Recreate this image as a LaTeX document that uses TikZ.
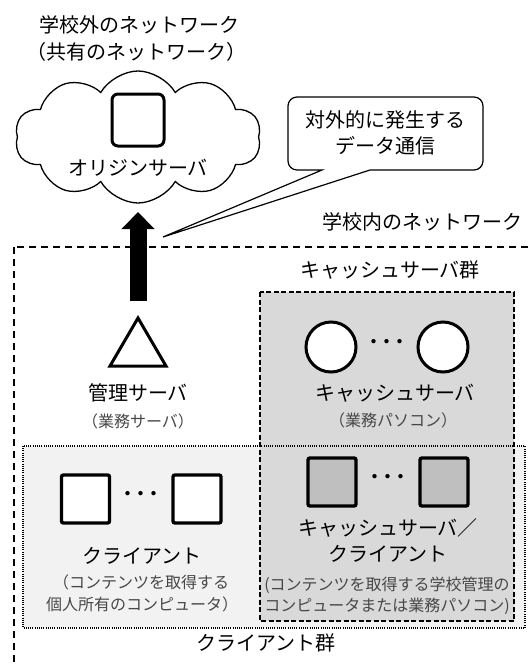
\documentclass[tikz,border=0pt]{standalone}
\usepackage{fontspec}
\setmainfont{Noto Sans CJK JP}
\usetikzlibrary{shapes.symbols,arrows.meta}
\definecolor{boxgray}{HTML}{D9D9D9}
\definecolor{clientgray}{HTML}{F2F2F2}
\definecolor{sqgray}{HTML}{BFBFBF}
\definecolor{txtgray}{HTML}{474747}
\begin{document}
\begin{tikzpicture}[x=1pt,y=-1pt,
  lbl/.style={font=\fontsize{20}{22}\selectfont, inner sep=0},
  sub/.style={font=\fontsize{16}{18}\selectfont, text=txtgray, inner sep=0},
  sq/.style={draw, line width=3.4pt, rounded corners=2pt, minimum size=48pt, inner sep=0},
  circ/.style={draw, circle, line width=3pt, fill=white, minimum size=50pt, inner sep=0},
  dots/.style={font=\fontsize{26}{26}\selectfont, inner sep=0}]
\useasboundingbox (0,0) rectangle (529,664);
\clip (0,0) rectangle (529,664);

% outside network
\node[lbl] (title1) at (139,25) {学校外のネットワーク};
\node[lbl] (title2) at (136,52) {（共有のネットワーク）};
\node[cloud, draw, line width=1.3pt, cloud puffs=10, cloud puff arc=120, aspect=1.9,
      minimum width=246pt, minimum height=132pt, inner sep=0] (cloud) at (138,137) {};
\node[draw, line width=3pt, rounded corners=6pt, minimum size=52pt, inner sep=0] (origin) at (138,120) {};
\node[lbl] (originlbl) at (138,168) {オリジンサーバ};

% callout
\coordinate (tip) at (163,237);
\draw[line width=1.2pt, fill=white] (tip) -- (370,170) [rounded corners=9pt] -- (483,170) -- (483,97) -- (288,97) -- (288,170) [sharp corners] -- (322,170) -- cycle;
\node[lbl] (call1) at (385,120) {対外的に発生する};
\node[lbl] (call2) at (385,146) {データ通信};

\node[lbl, anchor=east] (innet) at (523,222) {学校内のネットワーク};

% outer dashed network boundary
\draw[line width=1.3pt, dash pattern=on 7pt off 5pt] (14,247) rectangle (560,720);

% arrow
\coordinate (arrS) at (138,301);
\coordinate (arrE) at (138,212);
\draw[line width=17pt, -{Triangle[width=32pt,length=17pt]}] (arrS) -- (arrE);

% management server
\draw[line width=3pt, line join=miter] (138,318) -- (166,366) -- (110,366) -- cycle;
\node[lbl] (mgr) at (138,393) {管理サーバ};
\node[sub] (mgrsub) at (138,421) {（業務サーバ）};

% client group
\fill[clientgray] (23,446) rectangle (525,628);
\node[lbl] (cachegrp) at (390,270) {キャッシュサーバ群};
\draw[fill=boxgray, line width=1.3pt, dash pattern=on 5pt off 2.5pt] (260,292) rectangle (514,621);
\draw[line width=1.2pt, dash pattern=on 1pt off 1.2pt] (23,446) rectangle (525,628);

% cache servers
\node[circ] (c1) at (331,347) {};
\node[circ] (c2) at (443,347) {};
\node[dots] (cdots) at (387,345) {･･･};
\node[lbl] (cachelbl) at (395,393) {キャッシュサーバ};
\node[sub] (cachesub) at (393,420) {（業務パソコン）};

% clients
\node[sq, fill=white] (k1) at (85.5,499) {};
\node[sq, fill=white] (k2) at (197,499) {};
\node[dots] (kdots) at (141,497) {･･･};
\node[lbl] (klbl) at (142,556) {クライアント};
\node[sub] (ksub1) at (141,582) {（コンテンツを取得する};
\node[sub] (ksub2) at (142,604) {個人所有のコンピュータ）};

% cache server / clients
\node[sq, fill=sqgray] (g1) at (332,482) {};
\node[sq, fill=sqgray] (g2) at (444,482) {};
\node[dots] (gdots) at (388,480) {･･･};
\node[lbl] (glbl1) at (388,528) {キャッシュサーバ／};
\node[lbl] (glbl2) at (388,554) {クライアント};
\node[sub] (gsub1) at (387,585) {(コンテンツを取得する学校管理の};
\node[sub] (gsub2) at (387,606) {コンピュータまたは業務パソコン)};

\node[lbl] (clientgrp) at (266,643) {クライアント群};
\end{tikzpicture}
\end{document}
